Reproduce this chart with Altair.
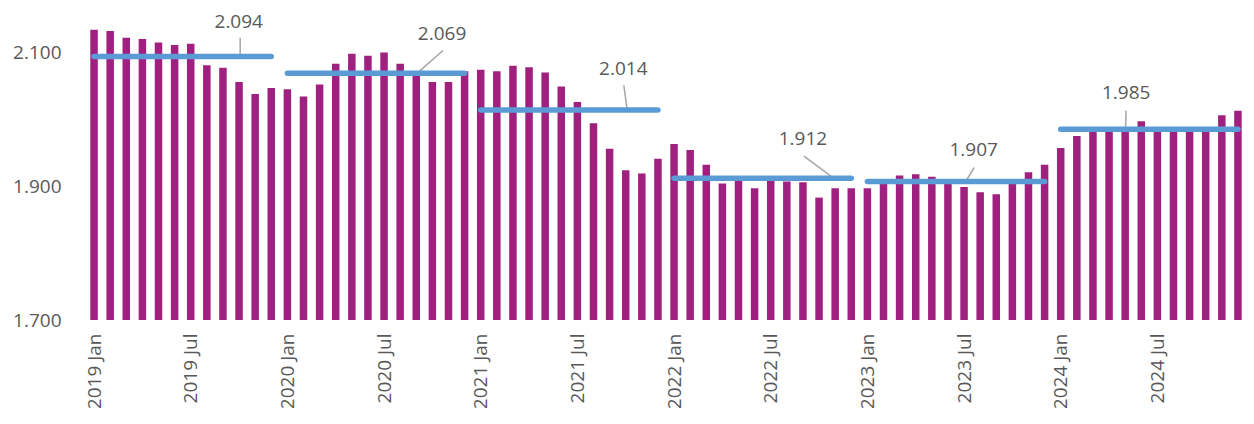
import altair as alt
import pandas as pd

# Monthly values, 2019 Jan .. 2024 Dec
values = [2134, 2132, 2122, 2120, 2115, 2111, 2113, 2081, 2077, 2056, 2038, 2047,
          2045, 2034, 2052, 2083, 2098, 2095, 2100, 2083, 2068, 2056, 2056, 2072,
          2074, 2072, 2080, 2078, 2070, 2049, 2026, 1994, 1956, 1924, 1919, 1941,
          1963, 1954, 1932, 1904, 1910, 1897, 1910, 1907, 1906, 1883, 1897, 1897,
          1897, 1904, 1916, 1918, 1914, 1908, 1899, 1891, 1888, 1905, 1921, 1932,
          1957, 1975, 1982, 1982, 1982, 1997, 1982, 1982, 1982, 1982, 2006, 2013]

tick_labels = ["2019 Jan", "2019 Jul", "2020 Jan", "2020 Jul", "2021 Jan", "2021 Jul",
               "2022 Jan", "2022 Jul", "2023 Jan", "2023 Jul", "2024 Jan", "2024 Jul"]

years = [2019, 2020, 2021, 2022, 2023, 2024]
year_avgs = [2094, 2069, 2014, 1912, 1907, 1985]

y_ticks = [1700, 1900, 2100]

# annotation layout: label (x index, y value), leader top (x, y), leader bottom x (y = average)
label_layout = [
    (8.98, 2146, 9.07, 2122, 9.07),
    (21.6, 2127, 21.66, 2103, 20.06),
    (32.85, 2075, 32.88, 2051, 33.09),
    (44.0, 1970, 44.06, 1945, 45.9),
    (54.6, 1954, 54.63, 1928, 54.1),
    (64.06, 2039, 64.06, 2013, 64.02),
]

FONT = "Open Sans"
TXT = "#595959"

bars_df = pd.DataFrame({
    "idx": list(range(len(values))),
    "value": values,
    "base": [1700] * len(values),
})

avg_df = pd.DataFrame({
    "year": years,
    "start": [(y - 2019) * 12 for y in years],
    "end": [(y - 2019) * 12 + 11 for y in years],
    "avg": year_avgs,
    "label": [f"{a / 1000:.3f}" for a in year_avgs],
    "lx": [p[0] for p in label_layout],
    "ly": [p[1] for p in label_layout],
    "tx": [p[2] for p in label_layout],
    "ty": [p[3] for p in label_layout],
    "bx": [p[4] for p in label_layout],
})

xscale = alt.Scale(domain=[-0.5, 71.19], nice=False, zero=False)
yscale = alt.Scale(domain=[1700, 2150], nice=False, zero=False)

label_array = "[" + ",".join(f"'{t}'" for t in tick_labels) + "]"

xaxis = alt.Axis(
    values=list(range(0, 72, 6)),
    labelExpr=label_array + "[datum.value / 6]",
    labelAngle=-90, labelAlign="right", labelBaseline="middle",
    tickSize=0, ticks=False, domain=False, grid=False, labelPadding=13,
    labelFontSize=19, labelColor=TXT, labelFont=FONT, title=None,
    labelFlush=False, labelOverlap=False)
yaxis = alt.Axis(
    values=y_ticks,
    labelExpr="replace(format(datum.value, ','), ',', '.')",
    tickSize=0, ticks=False, domain=False, grid=False, labelPadding=20,
    labelFontSize=19, labelColor=TXT, labelFont=FONT, title=None,
    labelFlush=False)

bars = alt.Chart(bars_df).mark_bar(color="#A0207F", width=7.5).encode(
    x=alt.X("idx:Q", scale=xscale, axis=xaxis),
    y=alt.Y("value:Q", scale=yscale, axis=yaxis),
    y2="base:Q",
)

leaders = alt.Chart(avg_df).mark_rule(color="#A6A6A6", strokeWidth=1.5).encode(
    x=alt.X("tx:Q", scale=xscale, axis=xaxis),
    y=alt.Y("ty:Q", scale=yscale, axis=yaxis),
    x2="bx:Q",
    y2="avg:Q",
)

avg_lines = alt.Chart(avg_df).mark_rule(color="#5B9BD5", strokeWidth=5.5, strokeCap="round").encode(
    x=alt.X("start:Q", scale=xscale, axis=xaxis),
    x2="end:Q",
    y=alt.Y("avg:Q", scale=yscale, axis=yaxis),
)

labels = alt.Chart(avg_df).mark_text(
    font=FONT, fontSize=19, color=TXT, align="center", baseline="middle"
).encode(
    x=alt.X("lx:Q", scale=xscale, axis=xaxis),
    y=alt.Y("ly:Q", scale=yscale, axis=yaxis),
    text="label:N",
)

chart = alt.layer(bars, leaders, avg_lines, labels).properties(
    width=1165, height=301,
    autosize=alt.AutoSizeParams(type="none"),
    padding={"left": 73, "top": 11, "right": 0, "bottom": 88},
    background="white",
).configure_view(stroke=None)

chart.save("out.html", embed_options={"renderer": "svg", "actions": False})
